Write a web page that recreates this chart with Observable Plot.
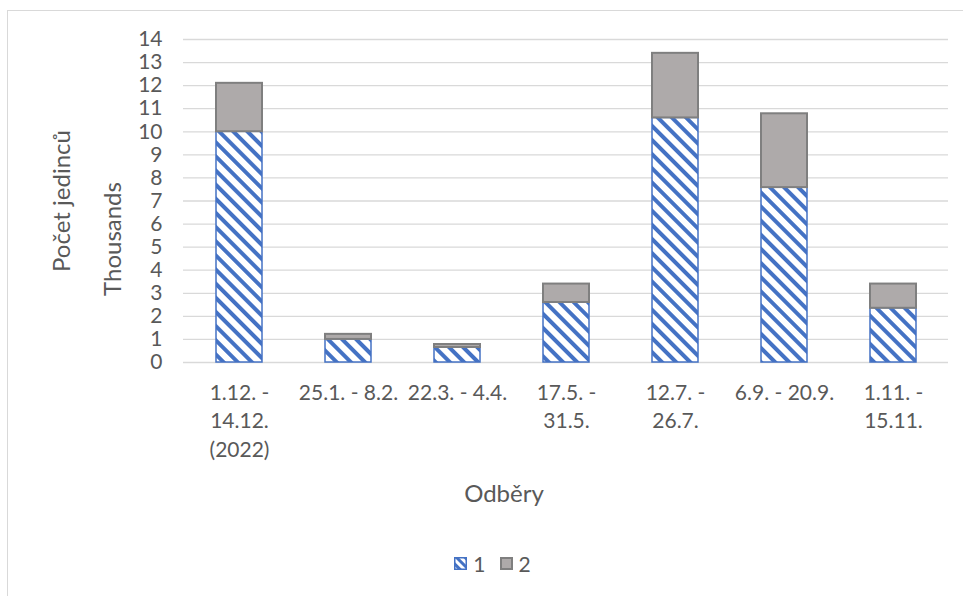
<!DOCTYPE html>
<html><head><meta charset="utf-8">
<script src="https://cdn.jsdelivr.net/npm/d3@7"></script>
<script src="https://cdn.jsdelivr.net/npm/@observablehq/plot@0.6"></script>
<style>
body{margin:0;background:#fff;font-family:Lato,"Open Sans",sans-serif;overflow:hidden}
#frame{position:absolute;left:7px;top:10px;width:1000px;height:700px;border-left:1.5px solid #d9d9d9;border-top:1.5px solid #d9d9d9;box-sizing:border-box}
#wrap{position:absolute;left:0;top:0;width:963px}
#legend{height:36px;display:flex;align-items:center;justify-content:center;padding-left:22px;font-size:21px;color:#595959;gap:0}
#legend .item{display:flex;align-items:center;margin:0 7px}
</style></head>
<body>
<div id="frame"></div>
<div id="wrap"><div id="chart"></div>
<div id="legend">
  <span class="item"><svg width="13" height="13" style="margin-right:6px"><defs><pattern id="lstripes" patternUnits="userSpaceOnUse" width="6" height="6" patternTransform="rotate(-45)"><rect width="6" height="6" fill="#fff"/><rect width="3" height="6" fill="#4472c4"/></pattern></defs><rect x="0.75" y="0.75" width="11.5" height="11.5" fill="url(#lstripes)" stroke="#4472c4" stroke-width="1.5"/></svg>1</span>
  <span class="item"><svg width="13" height="13" style="margin-right:6px"><rect x="1" y="1" width="11" height="11" fill="#aeaaaa" stroke="#7f7f7f" stroke-width="2"/></svg>2</span>
</div></div>
<script>
const categories = ["1.12. -\n14.12.\n(2022)", "25.1. - 8.2.", "22.3. - 4.4.", "17.5. -\n31.5.", "12.7. -\n26.7.", "6.9. - 20.9.", "1.11. -\n15.11."];
const series1 = [10.0, 1.0, 0.65, 2.6, 10.6, 7.58, 2.35];
const series2 = [2.1, 0.22, 0.13, 0.8, 2.8, 3.2, 1.05];
const yTicks = [0,1,2,3,4,5,6,7,8,9,10,11,12,13,14];
const seriesNames = ["1", "2"];

const rows = categories.map((c, i) => ({cat: c, s1: series1[i], s2: series2[i], total: series1[i] + series2[i]}));

const plot = Plot.plot({
  width: 963,
  height: 545,
  marginLeft: 183,
  marginRight: 15,
  marginTop: 39,
  marginBottom: 183,
  style: {fontFamily: "Lato, 'Open Sans', sans-serif", fontSize: "21px", color: "#595959", background: "transparent"},
  x: {domain: categories, paddingInner: 0.58, paddingOuter: 0.29, axis: null},
  y: {domain: [0, 14], axis: null},
  marks: [
    Plot.gridY(yTicks, {stroke: "#d9d9d9", strokeOpacity: 1, strokeWidth: 1.3}),
    Plot.axisY(yTicks, {tickSize: 0, tickPadding: 21, label: null, fontSize: 21, fill: "#595959"}),
    Plot.barY(rows, {x: "cat", y1: 0, y2: "s1", fill: "url(#stripes)", stroke: "#4472c4", strokeWidth: 1.5, inset: 0}),
    Plot.barY(rows, {x: "cat", y1: "s1", y2: "total", fill: "#aeaaaa", stroke: "#7f7f7f", strokeWidth: 2, inset: 0}),
    Plot.text(categories, {x: d => d, frameAnchor: "bottom", lineAnchor: "top", dy: 17, lineHeight: 1.36, fontSize: 21, fill: "#595959"}),
    Plot.text(["Odběry"], {frameAnchor: "bottom", dx: -62, dy: 132, lineAnchor: "middle", textAnchor: "middle", fontSize: 24, fill: "#595959"}),
    Plot.text(["Počet jedinců"], {frameAnchor: "left", dx: -121, rotate: -90, textAnchor: "middle", lineAnchor: "middle", fontSize: 24, fill: "#595959"}),
    Plot.text(["Thousands"], {frameAnchor: "left", dx: -70, dy: 38, rotate: -90, textAnchor: "middle", lineAnchor: "middle", fontSize: 24, fill: "#595959"})
  ]
});

const defs = d3.select(plot).insert("defs", ":first-child");
const pat = defs.append("pattern").attr("id", "stripes").attr("patternUnits", "userSpaceOnUse")
  .attr("width", 10).attr("height", 10).attr("patternTransform", "rotate(-45)");
pat.append("rect").attr("width", 10).attr("height", 10).attr("fill", "#fff");
pat.append("rect").attr("width", 4).attr("height", 10).attr("fill", "#4472c4");

document.getElementById("chart").appendChild(plot);
</script>
</body></html>
